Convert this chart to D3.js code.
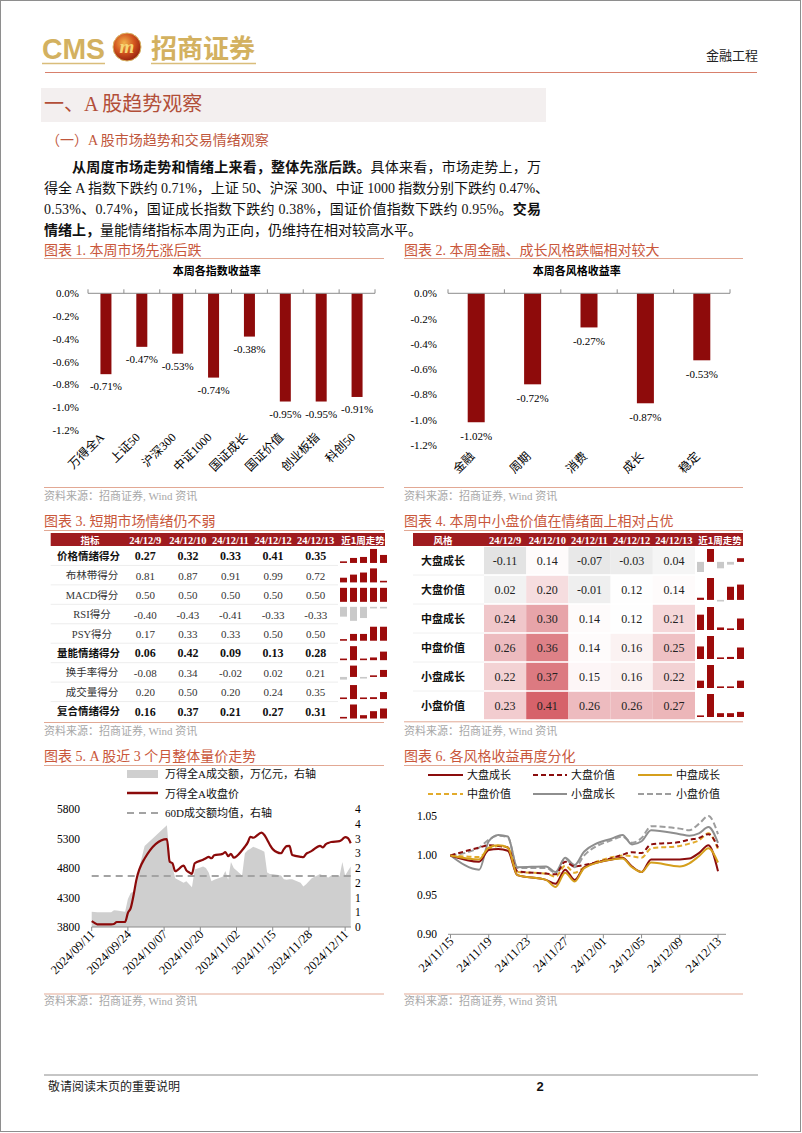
<!DOCTYPE html>
<html><head><meta charset="utf-8">
<script src="https://cdn.jsdelivr.net/npm/d3@7/dist/d3.min.js"></script>
<style>body{margin:0;background:#fff}svg{display:block}</style>
</head><body><script>
// ---------------- DATA ----------------
const idxCats = ["万得全A","上证50","沪深300","中证1000","国证成长","国证价值","创业板指","科创50"];
const idxVals = [-0.71,-0.47,-0.53,-0.74,-0.38,-0.95,-0.95,-0.91];
const idxTicks = [0,-0.2,-0.4,-0.6,-0.8,-1.0,-1.2];

const styleCats = ["金融","周期","消费","成长","稳定"];
const styleVals = [-1.02,-0.72,-0.27,-0.87,-0.53];
const styleTicks = [0,-0.2,-0.4,-0.6,-0.8,-1.0,-1.2];

const tblDates = ["24/12/9","24/12/10","24/12/11","24/12/12","24/12/13"];
const sentNames = ["价格情绪得分","布林带得分","MACD得分","RSI得分","PSY得分","量能情绪得分","换手率得分","成交量得分","复合情绪得分"];
const sentBold = [true,false,false,false,false,true,false,false,true];
const sentVals = [
  [0.27,0.32,0.33,0.41,0.35],
  [0.81,0.87,0.91,0.99,0.72],
  [0.50,0.50,0.50,0.50,0.50],
  [-0.40,-0.43,-0.41,-0.33,-0.33],
  [0.17,0.33,0.33,0.50,0.50],
  [0.06,0.42,0.09,0.13,0.28],
  [-0.08,0.34,-0.02,0.02,0.21],
  [0.20,0.50,0.20,0.24,0.35],
  [0.16,0.37,0.21,0.27,0.31]
];
const heatNames = ["大盘成长","大盘价值","中盘成长","中盘价值","小盘成长","小盘价值"];
const heatVals = [
  [-0.11,0.14,-0.07,-0.03,0.04],
  [0.02,0.20,-0.01,0.12,0.14],
  [0.24,0.30,0.14,0.12,0.21],
  [0.26,0.36,0.14,0.16,0.25],
  [0.22,0.37,0.15,0.16,0.22],
  [0.23,0.41,0.26,0.26,0.27]
];

const dates5 = ["2024-09-11","2024-09-12","2024-09-13","2024-09-18","2024-09-19","2024-09-20","2024-09-23","2024-09-24","2024-09-25","2024-09-26","2024-09-27","2024-09-30",
"2024-10-08","2024-10-09","2024-10-10","2024-10-11","2024-10-14","2024-10-15","2024-10-16","2024-10-17","2024-10-18","2024-10-21","2024-10-22","2024-10-23","2024-10-24","2024-10-25","2024-10-28","2024-10-29","2024-10-30","2024-10-31",
"2024-11-01","2024-11-04","2024-11-05","2024-11-06","2024-11-07","2024-11-08","2024-11-11","2024-11-12","2024-11-13","2024-11-14","2024-11-15","2024-11-18","2024-11-19","2024-11-20","2024-11-21","2024-11-22","2024-11-25","2024-11-26","2024-11-27","2024-11-28","2024-11-29",
"2024-12-02","2024-12-03","2024-12-04","2024-12-05","2024-12-06","2024-12-09","2024-12-10","2024-12-11","2024-12-12","2024-12-13"];
const close5 = [3900,3870,3845,3845,3852,3885,3885,4040,4120,4330,4590,4960,
5290,4905,4880,4745,4840,4760,4725,4700,4880,4940,4965,4990,4965,5015,5040,5070,5000,5040,
4975,5100,5160,5230,5330,5313,5400,5360,5280,5190,5120,5050,5120,5170,5175,5020,4990,4985,5040,5065,5090,
5175,5150,5200,5225,5240,5255,5285,5325,5305,5220];
const amount5 = [0.52,0.51,0.50,0.50,0.57,0.56,0.52,0.95,1.15,1.20,1.60,2.75,
3.45,2.35,2.05,1.65,1.50,1.55,1.45,1.35,1.95,2.05,2.00,1.85,1.55,1.60,1.70,1.90,1.60,2.20,
2.00,1.75,2.50,2.60,2.65,2.72,2.60,2.55,1.85,1.80,1.80,1.75,1.62,1.60,1.62,1.62,1.50,1.37,1.45,1.55,1.65,
1.80,1.75,1.70,1.68,1.75,1.72,2.20,1.75,1.90,2.05];
const avg60 = 1.73;
const leftTicks5 = [3800,4300,4800,5300,5800];
const rightTicks5 = [0,0.5,1,1.5,2,2.5,3,3.5,4];
const rightTickLabels5 = ["0","1","1","2","2","3","3","4","4"];
const xTicks5 = ["2024/09/11","2024/09/24","2024/10/07","2024/10/20","2024/11/02","2024/11/15","2024/11/28","2024/12/11"];
const legend5 = ["万得全A成交额，万亿元，右轴","万得全A收盘价","60D成交额均值，右轴"];

const dates6 = ["2024-11-15","2024-11-18","2024-11-19","2024-11-20","2024-11-21","2024-11-22","2024-11-25","2024-11-26","2024-11-27","2024-11-28","2024-11-29",
"2024-12-02","2024-12-03","2024-12-04","2024-12-05","2024-12-06","2024-12-09","2024-12-10","2024-12-11","2024-12-12","2024-12-13"];
const bigGrowth  = [1.000,0.992,1.007,1.008,1.006,0.975,0.969,0.964,0.982,0.969,0.985,0.995,0.997,0.986,0.979,0.995,0.995,0.996,1.003,1.013,0.980];
const bigValue   = [1.000,1.010,1.013,1.012,1.010,0.980,0.977,0.976,0.992,0.986,0.988,0.997,1.001,1.004,1.003,1.014,1.017,1.020,1.022,1.027,1.010];
const midGrowth  = [1.000,0.995,1.010,1.013,1.010,0.975,0.969,0.960,0.978,0.967,0.984,0.995,0.996,0.985,0.979,0.991,0.986,0.990,0.999,1.009,0.991];
const midValue   = [1.000,0.998,1.008,1.012,1.010,0.979,0.977,0.973,0.987,0.978,0.985,0.998,1.000,0.999,0.997,1.009,1.012,1.015,1.019,1.028,1.008];
const smallGrowth= [1.000,0.982,1.018,1.026,1.024,0.985,0.986,0.979,0.997,0.988,1.005,1.022,1.026,1.014,1.018,1.032,1.027,1.025,1.028,1.036,1.016];
const smallValue = [1.000,1.010,1.020,1.025,1.023,0.984,0.984,0.978,0.996,0.985,1.000,1.020,1.024,1.016,1.022,1.037,1.034,1.032,1.040,1.050,1.027];
const names6 = ["大盘成长","大盘价值","中盘成长","中盘价值","小盘成长","小盘价值"];
const yTicks6 = [0.90,0.95,1.00,1.05];
const xTicks6 = ["24/11/15","24/11/19","24/11/23","24/11/27","24/12/01","24/12/05","24/12/09","24/12/13"];

// ---------------- SETUP ----------------
const W=802,H=1133;
const svg=d3.select("body").append("svg").attr("width",W).attr("height",H);
const SERIF="'Liberation Serif','Noto Sans CJK SC',serif";
const CJK="'Noto Sans CJK SC','Liberation Serif',sans-serif";
const BAR="#8e0b0b", TITLE_C="#c9573b", RULE_C="#e2a894", SRC_C="#a8a8a8";
const loc=d3.formatLocale({decimal:".",thousands:",",grouping:[3],currency:["",""],minus:"-"});
const f1=loc.format(".1f"), f2=loc.format(".2f");
const parse=d3.utcParse("%Y-%m-%d"), parseS=d3.utcParse("%Y/%m/%d"), parse6=d3.utcParse("%y/%m/%d");

function txt(g,x,y,s,o={}){
  const t=g.append("text").attr("x",x).attr("y",y).text(s)
   .attr("font-family",o.ff||SERIF).attr("font-size",o.fs||11).attr("fill",o.fill||"#000");
  if(o.anchor) t.attr("text-anchor",o.anchor);
  if(o.fw) t.attr("font-weight",o.fw);
  return t;
}
function hline(g,x1,x2,y,c,w=1,dash){
  const l=g.append("line").attr("x1",x1).attr("x2",x2).attr("y1",y).attr("y2",y).attr("stroke",c).attr("stroke-width",w);
  if(dash) l.attr("stroke-dasharray",dash);
  return l;
}

// page border
svg.append("rect").attr("x",0.5).attr("y",0.5).attr("width",800).attr("height",1131).attr("fill","none").attr("stroke","#8e8e8e");

// ---------------- HEADER ----------------
const defs=svg.append("defs");
const rg=defs.append("radialGradient").attr("id","lg").attr("cx","40%").attr("cy","35%").attr("r","65%");
rg.append("stop").attr("offset","0%").attr("stop-color","#f2b24a");
rg.append("stop").attr("offset","55%").attr("stop-color","#d2541f");
rg.append("stop").attr("offset","100%").attr("stop-color","#9a2410");
txt(svg,42,59,"CMS",{ff:"'Liberation Sans',sans-serif",fw:"bold",fs:30,fill:"#d3b160"}).attr("textLength",63).attr("lengthAdjust","spacingAndGlyphs");
svg.append("circle").attr("cx",127).attr("cy",47).attr("r",14).attr("fill","url(#lg)").attr("stroke","#d9b765").attr("stroke-width",1);
txt(svg,127,53,"m",{ff:"'Liberation Serif',serif",fw:"bold",fs:19,fill:"#f7d774",anchor:"middle"}).attr("font-style","italic");
txt(svg,151,58,"招商证券",{ff:CJK,fw:"bold",fs:26,fill:"#d3b160"});
hline(svg,42,105,63.5,"#d9bd7a",1.5);
hline(svg,151,256,63.5,"#d9bd7a",1.5);
hline(svg,45,757,72.5,"#d8806c",1);
txt(svg,758,60,"金融工程",{ff:CJK,fs:13,fill:"#222",anchor:"end"});

// section heading
svg.append("rect").attr("x",41).attr("y",88).attr("width",505).attr("height",34).attr("fill","#f3efef");
txt(svg,44,111,"一、A 股趋势观察",{fs:20,fill:"#b24e38"});
txt(svg,46,145,"（一）A 股市场趋势和交易情绪观察",{fs:14,fill:"#c0573d"});

// paragraph
{
  const p=[
    {x:72,y:172,len:469,parts:[["从周度市场走势和情绪上来看，整体先涨后跌。",true],["具体来看，市场走势上，万",false]]},
    {x:44,y:193,len:505,parts:[["得全 A 指数下跌约 0.71%，上证 50、沪深 300、中证 1000 指数分别下跌约 0.47%、",false]]},
    {x:44,y:213.5,len:497,parts:[["0.53%、0.74%，国证成长指数下跌约 0.38%，国证价值指数下跌约 0.95%。",false],["交易",true]]},
    {x:44,y:234.5,len:null,parts:[["情绪上，",true],["量能情绪指标本周为正向，仍维持在相对较高水平。",false]]}
  ];
  p.forEach(l=>{
    const t=svg.append("text").attr("x",l.x).attr("y",l.y).attr("font-family",SERIF).attr("font-size",14).attr("fill","#111");
    if(l.len){t.attr("textLength",l.len).attr("lengthAdjust","spacing");}
    l.parts.forEach(([s,b])=>t.append("tspan").attr("font-weight",b?"bold":"normal").text(s));
  });
}

// ---------------- CHART 1 & 2 (bars) ----------------
function barChart(o){
  const g=svg.append("g");
  txt(g,o.left,255,o.title,{fs:14,fill:TITLE_C});
  hline(g,o.left,o.right,258.5,RULE_C,1);
  txt(g,o.titleX,275,o.sub,{ff:CJK,fw:"bold",fs:11,anchor:"middle"});
  const x=d3.scaleBand().domain(o.cats).range([o.x0,o.x1]);
  const y=d3.scaleLinear().domain([-1.2,0]).range([o.yB,293.3]);
  o.ticks.forEach(t=>txt(g,o.yLabX,y(t)+4,f1(t)+"%",{fs:11,anchor:"end"}));
  g.selectAll("rect.b").data(o.vals).join("rect").attr("class","b")
   .attr("x",(d,i)=>x(o.cats[i])+x.bandwidth()/2-o.bw/2).attr("width",o.bw)
   .attr("y",y(0)).attr("height",d=>y(d)-y(0)).attr("fill",BAR);
  hline(g,o.x0,o.x1,y(0),"#8c8c8c",1);
  d3.range(o.cats.length+1).forEach(i=>{
    const xx=o.x0+i*x.step();
    g.append("line").attr("x1",xx).attr("x2",xx).attr("y1",y(0)).attr("y2",y(0)-4).attr("stroke","#8c8c8c");
  });
  o.vals.forEach((v,i)=>txt(g,x(o.cats[i])+x.bandwidth()/2,y(v)+o.lblOff,f2(v)+"%",{fs:11,anchor:"middle"}));
  o.cats.forEach(c=>{
    txt(g,0,0,c,{fs:12,anchor:"end"}).attr("transform",`translate(${x(c)+x.bandwidth()/2-1},${o.catY}) rotate(-45)`);
  });
  hline(g,o.left,o.right,487.5,RULE_C,1);
  txt(g,o.left,500,"资料来源：招商证券, Wind 资讯",{fs:11,fill:SRC_C});
}
barChart({left:44,right:384,title:"图表 1. 本周市场先涨后跌",sub:"本周各指数收益率",titleX:216.7,
  cats:idxCats,vals:idxVals,ticks:idxTicks,x0:88,x1:375,yB:430,yLabX:79,bw:11,lblOff:16,catY:438});
barChart({left:404,right:743,title:"图表 2. 本周金融、成长风格跌幅相对较大",sub:"本周各风格收益率",titleX:576.7,
  cats:styleCats,vals:styleVals,ticks:styleTicks,x0:448,x1:730,yB:445,yLabX:437,bw:17,lblOff:18,catY:457});

// ---------------- SPARKLINE ----------------
function spark(g,vals,x0,x1,top,bottom,hh){
  const xb=d3.scaleBand().domain(d3.range(vals.length)).range([x0,x1]).paddingInner(0.3);
  const lo=d3.min(vals),hi=d3.max(vals);
  const col=v=>v<0?"#c9c9c9":"#9c0b0b";
  if(hi===lo){
    vals.forEach((v,i)=>g.append("rect").attr("x",xb(i)).attr("width",xb.bandwidth()).attr("y",bottom-hh).attr("height",hh).attr("fill",col(v)));
    return;
  }
  let y,base,neg=false;
  if(lo>=0){y=d3.scaleLinear().domain([lo,hi]).range([bottom,bottom-hh]);base=bottom;}
  else if(hi<=0){y=d3.scaleLinear().domain([lo,hi]).range([top+hh,top]);base=top;neg=true;}
  else{y=d3.scaleLinear().domain([lo,hi]).range([bottom,bottom-hh]);base=y(0);}
  vals.forEach((v,i)=>{
    const yv=y(v);let ya=Math.min(base,yv),yb=Math.max(base,yv);
    if(yb-ya<1.6){ if(v>=0&&!neg){ya=base-1.6;yb=base;} else {ya=base;yb=base+1.6;} }
    g.append("rect").attr("x",xb(i)).attr("width",xb.bandwidth()).attr("y",ya).attr("height",yb-ya).attr("fill",col(v));
  });
}

// ---------------- TABLE 3 ----------------
{
  const g=svg.append("g");
  txt(g,44,526,"图表 3. 短期市场情绪仍不弱",{fs:14,fill:TITLE_C});
  hline(g,44,384,530.5,RULE_C,1);
  g.append("rect").attr("x",50.7).attr("y",533).attr("width",334.3).attr("height",13).attr("fill","#9f1b1f");
  const xc=d3.scaleBand().domain(tblDates).range([124,337]);
  const ry=d3.scaleBand().domain(d3.range(sentNames.length)).range([546,721]);
  txt(g,90,543.5,"指标",{ff:CJK,fw:"bold",fs:9.5,fill:"#fff",anchor:"middle"});
  tblDates.forEach(d=>txt(g,xc(d)+xc.bandwidth()/2,543.5,d,{fw:"bold",fs:10.5,fill:"#fff",anchor:"middle"}));
  txt(g,363,543.5,"近1周走势",{ff:CJK,fw:"bold",fs:9.5,fill:"#fff",anchor:"middle"});
  sentNames.forEach((n,i)=>{
    const top=ry(i),bot=top+ry.bandwidth(),cy=top+ry.bandwidth()/2;
    if(i>0) hline(g,50.7,338,top,"#e8e8e8",0.8);
    if(sentBold[i]) txt(g,57,cy+4,n,{ff:CJK,fw:"bold",fs:10.5,fill:"#111"});
    else txt(g,92,cy+4,n,{fs:10.5,fill:"#333",anchor:"middle"});
    sentVals[i].forEach((v,j)=>txt(g,xc(tblDates[j])+xc.bandwidth()/2,cy+4.5,f2(v),{fs:sentBold[i]?12:11,fw:sentBold[i]?"bold":"normal",fill:sentBold[i]?"#111":"#333",anchor:"middle"}));
    spark(g,sentVals[i],340,387,top+2.5,bot-2.5,14);
  });
  hline(g,44,384,722.5,RULE_C,1);
  txt(g,44,735,"资料来源：招商证券, Wind 资讯",{fs:11,fill:SRC_C});
}

// ---------------- TABLE 4 (heatmap) ----------------
{
  const g=svg.append("g");
  txt(g,404,526,"图表 4. 本周中小盘价值在情绪面上相对占优",{fs:14,fill:TITLE_C});
  hline(g,404,743,530.5,RULE_C,1);
  g.append("rect").attr("x",413).attr("y",533).attr("width",330).attr("height",13).attr("fill","#9f1b1f");
  const xc=d3.scaleBand().domain(tblDates).range([484,695]);
  const ry=d3.scaleBand().domain(d3.range(heatNames.length)).range([546,720]);
  txt(g,443,543.5,"风格",{ff:CJK,fw:"bold",fs:9.5,fill:"#fff",anchor:"middle"});
  tblDates.forEach(d=>txt(g,xc(d)+xc.bandwidth()/2,543.5,d,{fw:"bold",fs:10.5,fill:"#fff",anchor:"middle"}));
  txt(g,720,543.5,"近1周走势",{ff:CJK,fw:"bold",fs:9.5,fill:"#fff",anchor:"middle"});
  const negC=d3.scaleLinear().domain([-0.11,0.13]).range(["#e3e3e3","#ffffff"]).clamp(true);
  const posC=d3.interpolateRgb("#ffffff","#d6626a");
  const color=v=>v<0.13?negC(v):posC(Math.min(1,Math.pow((v-0.13)/0.28,1.1)));
  heatNames.forEach((n,i)=>{
    const top=ry(i),bot=top+ry.bandwidth(),cy=top+ry.bandwidth()/2;
    if(i>0) hline(g,413,484,top,"#ececec",0.8);
    txt(g,443,cy+4,n,{ff:CJK,fw:"bold",fs:11,fill:"#111",anchor:"middle"});
    heatVals[i].forEach((v,j)=>{
      g.append("rect").attr("x",xc(tblDates[j])).attr("y",top+0.8).attr("width",xc.bandwidth()).attr("height",ry.bandwidth()-1.6).attr("fill",color(v));
      txt(g,xc(tblDates[j])+xc.bandwidth()/2,cy+4.5,f2(v),{fs:12,fill:"#222",anchor:"middle"});
    });
    spark(g,heatVals[i],697,744,top+3,bot-3,23);
  });
  hline(g,404,743,721.8,RULE_C,1);
  txt(g,404,735,"资料来源：招商证券, Wind 资讯",{fs:11,fill:SRC_C});
}

// ---------------- CHART 5 ----------------
{
  const g=svg.append("g");
  txt(g,44,761,"图表 5. A 股近 3 个月整体量价走势",{fs:14,fill:TITLE_C});
  hline(g,44,384,765.5,RULE_C,1);
  const x=d3.scaleUtc().domain([parse(dates5[0]),parse(dates5[dates5.length-1])]).range([91.7,350.7]);
  const yL=d3.scaleLinear().domain([3800,5800]).range([927,809]);
  const yR=d3.scaleLinear().domain([0,4]).range([927,809]);
  const d5=dates5.map((d,i)=>({date:parse(d),c:close5[i],a:amount5[i]}));
  g.append("path").datum(d5).attr("fill","#cfcfcf")
   .attr("d",d3.area().x(d=>x(d.date)).y0(yR(0)).y1(d=>yR(d.a)));
  hline(g,91.7,350.7,yR(avg60),"#a3a3a3",2,"7,5");
  g.append("path").datum(d5).attr("fill","none").attr("stroke","#8b0a0a").attr("stroke-width",2.2)
   .attr("d",d3.line().curve(d3.curveMonotoneX).x(d=>x(d.date)).y(d=>yL(d.c)));
  hline(g,91.7,351,927,"#8c8c8c",1);
  xTicks5.forEach(s=>{
    const xx=x(parseS(s));
    g.append("line").attr("x1",xx).attr("x2",xx).attr("y1",927).attr("y2",931).attr("stroke","#8c8c8c");
    txt(g,0,0,s,{fs:12.5,anchor:"end"}).attr("transform",`translate(${xx+4},${935}) rotate(-45)`);
  });
  leftTicks5.forEach(t=>txt(g,80,yL(t)+4,String(t),{fs:11.5,anchor:"end"}));
  rightTicks5.forEach((t,i)=>txt(g,355,yR(t)+4,rightTickLabels5[i],{fs:11.5}));
  // legend
  g.append("rect").attr("x",127).attr("y",770).attr("width",31).attr("height",8).attr("fill","#cfcfcf");
  hline(g,127,158,793,"#8b0a0a",2.5);
  hline(g,127,158,813,"#a3a3a3",2,"7,5");
  legend5.forEach((s,i)=>txt(g,165,[778,797.5,817][i],s,{fs:11,fill:"#111"}));
  hline(g,44,384,994,RULE_C,1);
  txt(g,44,1005,"资料来源：招商证券, Wind 资讯",{fs:11,fill:SRC_C});
}

// ---------------- CHART 6 ----------------
{
  const g=svg.append("g");
  txt(g,404,761,"图表 6. 各风格收益再度分化",{fs:14,fill:TITLE_C});
  hline(g,404,743,765.5,RULE_C,1);
  const x=d3.scaleUtc().domain([parse(dates6[0]),parse(dates6[dates6.length-1])]).range([450.5,718]);
  const y=d3.scaleLinear().domain([0.90,1.05]).range([934.3,816]);
  const series=[bigGrowth,bigValue,midGrowth,midValue,smallGrowth,smallValue];
  const sty=[
    {c:"#8b0d0d",d:null},{c:"#8b0d0d",d:"5,3"},
    {c:"#d59f1c",d:null},{c:"#e2ab2c",d:"5,3"},
    {c:"#8e8e8e",d:null},{c:"#9d9d9d",d:"6,3"}
  ];
  yTicks6.forEach(t=>txt(g,437,y(t)+4,f2(t),{fs:11.5,anchor:"end"}));
  const line=d3.line().curve(d3.curveMonotoneX).x((d,i)=>x(parse(dates6[i]))).y(d=>y(d));
  [5,4,3,1,0,2].forEach(k=>{
    const p=g.append("path").datum(series[k]).attr("fill","none").attr("stroke",sty[k].c).attr("stroke-width",2).attr("d",line);
    if(sty[k].d) p.attr("stroke-dasharray",sty[k].d);
  });
  hline(g,448,726,934.3,"#8c8c8c",1);
  xTicks6.forEach(s=>{
    const xx=x(parse6(s));
    g.append("line").attr("x1",xx).attr("x2",xx).attr("y1",934.3).attr("y2",938.3).attr("stroke","#8c8c8c");
    txt(g,0,0,s,{fs:12.5,anchor:"end"}).attr("transform",`translate(${xx+4},${942}) rotate(-45)`);
  });
  // legend
  const lx=[[428,463,467],[533,567,571],[638,672,676]];
  names6.forEach((n,k)=>{
    const col=k%3,row=Math.floor(k/3);
    const ly=row?794:775;
    hline(g,lx[col][0],lx[col][1],ly,sty[k].c,2,sty[k].d);
    txt(g,lx[col][2],ly+4,n,{ff:CJK,fs:11,fill:"#111"});
  });
  hline(g,404,743,994,RULE_C,1);
  txt(g,404,1005,"资料来源：招商证券, Wind 资讯",{fs:11,fill:SRC_C});
}

// ---------------- FOOTER ----------------
hline(svg,44,758,1075,"#8c8c8c",1);
txt(svg,48,1091,"敬请阅读末页的重要说明",{ff:CJK,fs:12,fill:"#222"});
txt(svg,540,1091,"2",{ff:"'Liberation Sans',sans-serif",fw:"bold",fs:13,fill:"#111",anchor:"middle"});
</script></body></html>
